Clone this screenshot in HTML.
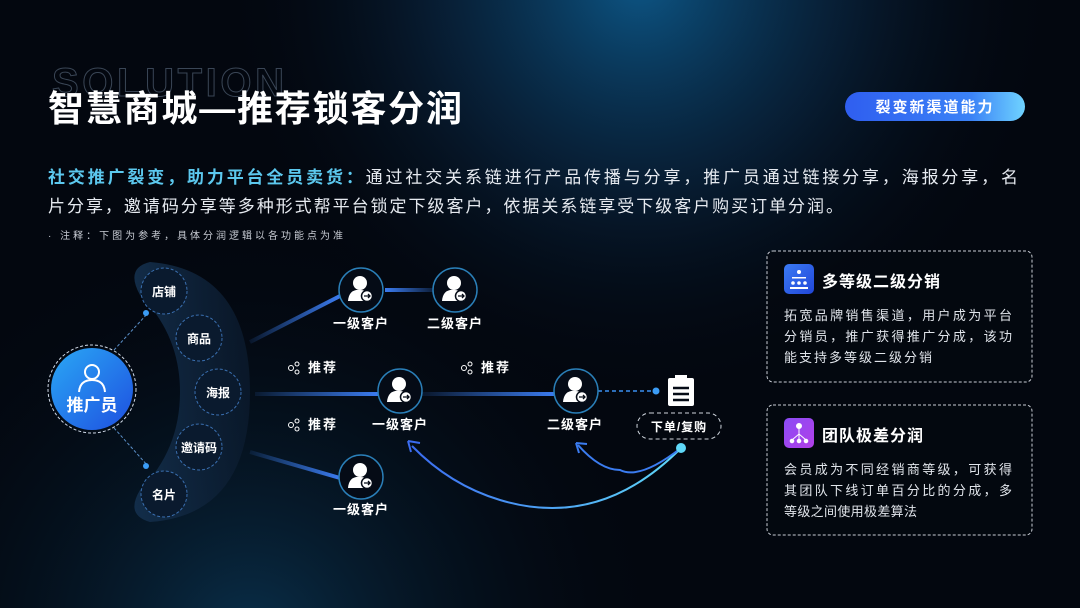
<!DOCTYPE html>
<html><head><meta charset="utf-8"><style>
html,body{margin:0;padding:0;background:#03070f;}
svg{display:block;font-family:"Liberation Sans","Noto Sans CJK SC",sans-serif;}
</style></head><body>
<svg width="1080" height="608" viewBox="0 0 1080 608" xmlns="http://www.w3.org/2000/svg">
<defs>
<radialGradient id="g1" cx="640" cy="-20" r="420" gradientUnits="userSpaceOnUse">
<stop offset="0" stop-color="#0d5a8c" stop-opacity="0.95"/><stop offset="0.5" stop-color="#0a2a48" stop-opacity="0.6"/><stop offset="1" stop-color="#03070f" stop-opacity="0"/></radialGradient>
<radialGradient id="g2" cx="250" cy="640" r="420" gradientUnits="userSpaceOnUse">
<stop offset="0" stop-color="#0b3a5a" stop-opacity="0.8"/><stop offset="1" stop-color="#03070f" stop-opacity="0"/></radialGradient>
<linearGradient id="pill" x1="0" x2="1"><stop offset="0" stop-color="#2f5ef0"/><stop offset="0.7" stop-color="#3b82f6"/><stop offset="1" stop-color="#6fd3ff"/></linearGradient>
<linearGradient id="prom" x1="0" y1="0" x2="1" y2="1"><stop offset="0" stop-color="#2aa8f5"/><stop offset="1" stop-color="#1e4fe0"/></linearGradient>
<linearGradient id="ln" x1="0" x2="1"><stop offset="0" stop-color="#3b82f6" stop-opacity="0.1"/><stop offset="1" stop-color="#3b7bf0"/></linearGradient>
<linearGradient id="ln2" x1="1" x2="0"><stop offset="0" stop-color="#3b82f6" stop-opacity="0.15"/><stop offset="1" stop-color="#3b7bf0"/></linearGradient>
<linearGradient id="ic1" x1="0" y1="0" x2="1" y2="1"><stop offset="0" stop-color="#3b7bf5"/><stop offset="1" stop-color="#2146d8"/></linearGradient>
<linearGradient id="ic2" x1="0" y1="0" x2="1" y2="1"><stop offset="0" stop-color="#8b4cf5"/><stop offset="1" stop-color="#b13fe8"/></linearGradient>
<linearGradient id="band" x1="0" x2="1"><stop offset="0" stop-color="#14304e" stop-opacity="0.9"/><stop offset="1" stop-color="#0c1c30" stop-opacity="0.7"/></linearGradient>
<linearGradient id="cur" x1="0" x2="1"><stop offset="0" stop-color="#3b6cf0"/><stop offset="1" stop-color="#5fd8f8"/></linearGradient>
<g id="cust">
<circle r="22" fill="#050b16" stroke="#2a7fb8" stroke-width="1.5"/>
<circle cx="-1" cy="-7" r="7" fill="#fff"/>
<path d="M-13 11 Q-12 -1 -1 0 Q8 0 10 8 L10 11 Z" fill="#fff"/>
<circle cx="6" cy="6" r="5.5" fill="#fff" stroke="#050b16" stroke-width="1.5"/>
<path d="M3 6 H9 M7 4 L9 6 L7 8" stroke="#050b16" stroke-width="1.3" fill="none"/>
</g>
</defs>
<rect width="1080" height="608" fill="#03070f"/>
<rect width="1080" height="608" fill="url(#g1)"/>
<rect width="1080" height="608" fill="url(#g2)"/>

<text x="52" y="96" font-size="40" font-weight="bold" fill="none" stroke="#3a4656" stroke-width="1" textLength="232">SOLUTION</text>
<text x="48" y="121" font-size="36" font-weight="bold" fill="#fff" textLength="414">智慧商城—推荐锁客分润</text>

<rect x="845" y="92" width="180" height="29" rx="14.5" fill="url(#pill)"/>
<text x="935" y="112" font-size="15" font-weight="bold" fill="#fff" text-anchor="middle" letter-spacing="2">裂变新渠道能力</text>

<text x="48" y="183" font-size="17" fill="#e6eaf0" textLength="970"><tspan fill="#5cc8ee" font-weight="bold">社交推广裂变，助力平台全员卖货：</tspan>通过社交关系链进行产品传播与分享，推广员通过链接分享，海报分享，名</text>
<text x="48" y="212" font-size="17" fill="#e6eaf0" textLength="795">片分享，邀请码分享等多种形式帮平台锁定下级客户，依据关系链享受下级客户购买订单分润。</text>
<text x="48" y="239" font-size="10" fill="#c8ccd4" textLength="295">· 注释：下图为参考，具体分润逻辑以各功能点为准</text>

<path d="M150 262 Q250 270 250 392 Q250 515 150 522 Q125 515 140 490 Q180 450 180 392 Q180 335 140 295 Q125 268 150 262 Z" fill="url(#band)"/>
<g fill="#0a1a2e" stroke="#3a6fb0" stroke-width="1" stroke-dasharray="3 2">
<circle cx="164" cy="291" r="23"/><circle cx="199" cy="338" r="23"/><circle cx="218" cy="392" r="23"/><circle cx="199" cy="447" r="23"/><circle cx="164" cy="494" r="23"/>
</g>
<g font-size="12" fill="#fff" text-anchor="middle" font-weight="bold">
<text x="164" y="296">店铺</text><text x="199" y="343">商品</text><text x="218" y="397">海报</text><text x="199" y="452">邀请码</text><text x="164" y="499">名片</text>
</g>
<line x1="114" y1="350" x2="148" y2="313" stroke="#5a8fc8" stroke-dasharray="3 2"/>
<line x1="114" y1="428" x2="148" y2="466" stroke="#5a8fc8" stroke-dasharray="3 2"/>
<circle cx="146" cy="313" r="3" fill="#3b9cf5"/><circle cx="146" cy="466" r="3" fill="#3b9cf5"/>
<circle cx="92" cy="389" r="44" fill="none" stroke="#cfd8e6" stroke-dasharray="3 2"/>
<circle cx="92" cy="389" r="41" fill="url(#prom)"/>
<circle cx="92" cy="372" r="7" fill="none" stroke="#fff" stroke-width="2"/>
<path d="M79 392 Q80 380 92 380 Q104 380 105 392" fill="none" stroke="#fff" stroke-width="2"/>
<text x="92" y="411" font-size="17" font-weight="bold" fill="#fff" text-anchor="middle">推广员</text>

<path d="M250 342 L340 296" stroke="url(#ln)" stroke-width="4"/>
<rect x="385" y="288" width="50" height="4" fill="url(#ln2)"/>
<rect x="255" y="392" width="123" height="4" fill="url(#ln)"/>
<rect x="422" y="392" width="133" height="4" fill="url(#ln)"/>
<path d="M250 452 L340 478" stroke="url(#ln)" stroke-width="4"/>
<line x1="598" y1="391" x2="655" y2="391" stroke="#3b8ff0" stroke-width="1.5" stroke-dasharray="4 3"/>
<circle cx="656" cy="391" r="3.5" fill="#3b9cf5"/>

<use href="#cust" x="361" y="290"/><use href="#cust" x="455" y="290"/><use href="#cust" x="400" y="391"/><use href="#cust" x="576" y="391"/><use href="#cust" x="361" y="477"/>
<g font-size="13" font-weight="bold" fill="#fff" text-anchor="middle" letter-spacing="1">
<text x="361" y="328">一级客户</text><text x="455" y="328">二级客户</text><text x="400" y="429">一级客户</text><text x="575" y="429">二级客户</text><text x="361" y="514">一级客户</text>
</g>
<g font-size="13" fill="#fff" font-weight="bold" letter-spacing="2">
<text x="308" y="372">推荐</text><text x="308" y="429">推荐</text><text x="481" y="372">推荐</text>
</g>
<g fill="none" stroke="#fff" stroke-width="1">
<g transform="translate(294,368)"><circle cx="-3" cy="0" r="2.5"/><circle cx="3" cy="-4" r="2"/><circle cx="3" cy="4" r="2"/></g>
<g transform="translate(294,425)"><circle cx="-3" cy="0" r="2.5"/><circle cx="3" cy="-4" r="2"/><circle cx="3" cy="4" r="2"/></g>
<g transform="translate(467,368)"><circle cx="-3" cy="0" r="2.5"/><circle cx="3" cy="-4" r="2"/><circle cx="3" cy="4" r="2"/></g>
</g>
<rect x="668" y="378" width="26" height="28" rx="2" fill="#fff"/>
<rect x="675" y="375" width="12" height="5" fill="#fff"/>
<g stroke="#050b16" stroke-width="2.5"><line x1="673" y1="388" x2="689" y2="388"/><line x1="673" y1="394" x2="689" y2="394"/><line x1="673" y1="400" x2="689" y2="400"/></g>
<rect x="637" y="413" width="84" height="26" rx="13" fill="none" stroke="#d0d6de" stroke-dasharray="4 3"/>
<text x="679" y="431" font-size="12" fill="#fff" text-anchor="middle" letter-spacing="1" font-weight="bold">下单/复购</text>
<path d="M681 448 Q600 530 500 500 Q450 485 412 446" fill="none" stroke="url(#cur)" stroke-width="2"/>
<path d="M408 441 L420 443 M408 441 L411 452" stroke="#3b6cf0" stroke-width="2"/>
<path d="M681 448 Q640 480 620 470 Q600 470 578 445" fill="none" stroke="#3b7cf0" stroke-width="2"/>
<path d="M576 443 L587 444 M576 443 L579 453" stroke="#3b7cf0" stroke-width="2"/>
<circle cx="681" cy="448" r="5" fill="#5fd8f8"/>

<rect x="767" y="251" width="265" height="131" rx="6" fill="#04080f" fill-opacity="0.7" stroke="#c8ccd4" stroke-dasharray="3 2"/>
<rect x="784" y="264" width="30" height="30" rx="5" fill="url(#ic1)"/>
<g fill="#fff"><circle cx="799" cy="272" r="2"/><rect x="792" y="277" width="14" height="1.5"/><circle cx="793" cy="283" r="1.8"/><circle cx="799" cy="283" r="1.8"/><circle cx="805" cy="283" r="1.8"/><rect x="790" y="287" width="18" height="2"/></g>
<text x="822" y="287" font-size="16" font-weight="bold" fill="#fff" letter-spacing="1">多等级二级分销</text>
<g font-size="13" fill="#e0e4ea">
<text x="784" y="320" textLength="228">拓宽品牌销售渠道，用户成为平台</text>
<text x="784" y="341" textLength="228">分销员，推广获得推广分成，该功</text>
<text x="784" y="362" textLength="148">能支持多等级二级分销</text>
</g>
<rect x="767" y="405" width="265" height="130" rx="6" fill="#04080f" fill-opacity="0.7" stroke="#c8ccd4" stroke-dasharray="3 2"/>
<rect x="784" y="418" width="30" height="30" rx="5" fill="url(#ic2)"/>
<g fill="#fff" stroke="#fff"><circle cx="799" cy="426" r="2.5"/><path d="M799 428 V434 M792 440 L799 434 L806 440 M799 434 V440" fill="none" stroke-width="1"/><circle cx="792" cy="441" r="1.8"/><circle cx="799" cy="441" r="1.8"/><circle cx="806" cy="441" r="1.8"/></g>
<text x="822" y="441" font-size="16" font-weight="bold" fill="#fff" letter-spacing="1">团队极差分润</text>
<g font-size="13" fill="#e0e4ea">
<text x="784" y="474" textLength="228">会员成为不同经销商等级，可获得</text>
<text x="784" y="495" textLength="228">其团队下线订单百分比的分成，多</text>
<text x="784" y="516" textLength="133">等级之间使用极差算法</text>
</g>
</svg>
</body></html>
